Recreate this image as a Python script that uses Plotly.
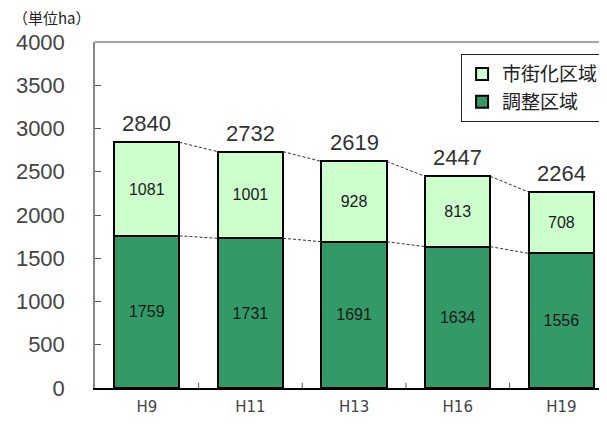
import plotly.graph_objects as go

categories = ["H9", "H11", "H13", "H16", "H19"]
chosei = [1759, 1731, 1691, 1634, 1556]      # 調整区域
shigaika = [1081, 1001, 928, 813, 708]       # 市街化区域
totals = [2840, 2732, 2619, 2447, 2264]
y_ticks = [0, 500, 1000, 1500, 2000, 2500, 3000, 3500, 4000]

x = list(range(len(categories)))
bw = 0.63
font_num = "Liberation Sans"
font_lbl = "DejaVu Sans"
font_jp = "Noto Sans CJK JP"

fig = go.Figure()
fig.add_trace(go.Bar(
    x=x, y=chosei, name="調整区域", width=bw,
    marker=dict(color="#339966", line=dict(color="#000000", width=2)),
    text=[str(v) for v in chosei], textposition="inside", insidetextanchor="middle",
    textfont=dict(size=16, color="#1a1a1a", family=font_num),
))
fig.add_trace(go.Bar(
    x=x, y=shigaika, name="市街化区域", width=bw,
    marker=dict(color="#ccffcc", line=dict(color="#000000", width=2)),
    text=[str(v) for v in shigaika], textposition="inside", insidetextanchor="middle",
    textfont=dict(size=16, color="#1a1a1a", family=font_num),
))

# dashed connector lines between bars
def connectors(vals):
    xs, ys = [], []
    for i in range(len(vals) - 1):
        xs += [x[i] + bw / 2, x[i + 1] - bw / 2, None]
        ys += [vals[i], vals[i + 1], None]
    return xs, ys

for vals in (totals, chosei):
    cx, cy = connectors(vals)
    fig.add_trace(go.Scatter(x=cx, y=cy, mode="lines", showlegend=False, hoverinfo="skip",
                             line=dict(color="#333333", width=1, dash="3px,2px")))

total_annots = [dict(x=xi, y=t, text=str(t), xref="x", yref="y", showarrow=False,
                     yanchor="bottom", yshift=4,
                     font=dict(size=22, color="#333333", family=font_num))
                for xi, t in zip(x, totals)]

fig.update_layout(
    width=607, height=432, barmode="stack",
    margin=dict(l=87, r=8, t=34, b=52),
    plot_bgcolor="white", paper_bgcolor="white",
    xaxis=dict(range=[-0.5, 4.44], tickvals=x, ticktext=categories, showgrid=False,
               showline=True, linecolor="#000000", linewidth=2, zeroline=False,
               ticks="", automargin=False, ticklabelstandoff=4,
               tickfont=dict(size=15, color="#444444", family=font_lbl)),
    yaxis=dict(range=[0, 4000], tickvals=y_ticks, showgrid=False, zeroline=False,
               showline=True, linecolor="#888888", linewidth=1.5, automargin=False,
               ticks="inside", ticklen=6, tickcolor="#555555", ticklabelstandoff=24,
               tickfont=dict(size=22, color="#444444", family=font_num)),
    legend=dict(x=0.715, y=0.965, xanchor="left", yanchor="top", traceorder="reversed",
                bgcolor="white", bordercolor="#222222", borderwidth=1,
                font=dict(size=19, color="#222222", family=font_jp),
                itemwidth=30, tracegroupgap=4),
    shapes=[dict(type="line", xref="paper", yref="paper", x0=0, x1=1, y0=1, y1=1,
                 line=dict(color="#888888", width=1.5))],
    annotations=[dict(text="（単位ha）", xref="paper", yref="paper", x=-0.165, y=1.0,
                      xanchor="left", yanchor="bottom", showarrow=False, yshift=12,
                      font=dict(size=15, color="#222222", family=font_jp))] + total_annots,
)

# small tick marks between categories on x axis
for i in range(len(categories) - 1):
    fig.add_shape(type="line", xref="x", yref="paper", x0=i + 0.5, x1=i + 0.5, y0=0, y1=0.015,
                  line=dict(color="#555555", width=1))

fig.write_html("out.html")
